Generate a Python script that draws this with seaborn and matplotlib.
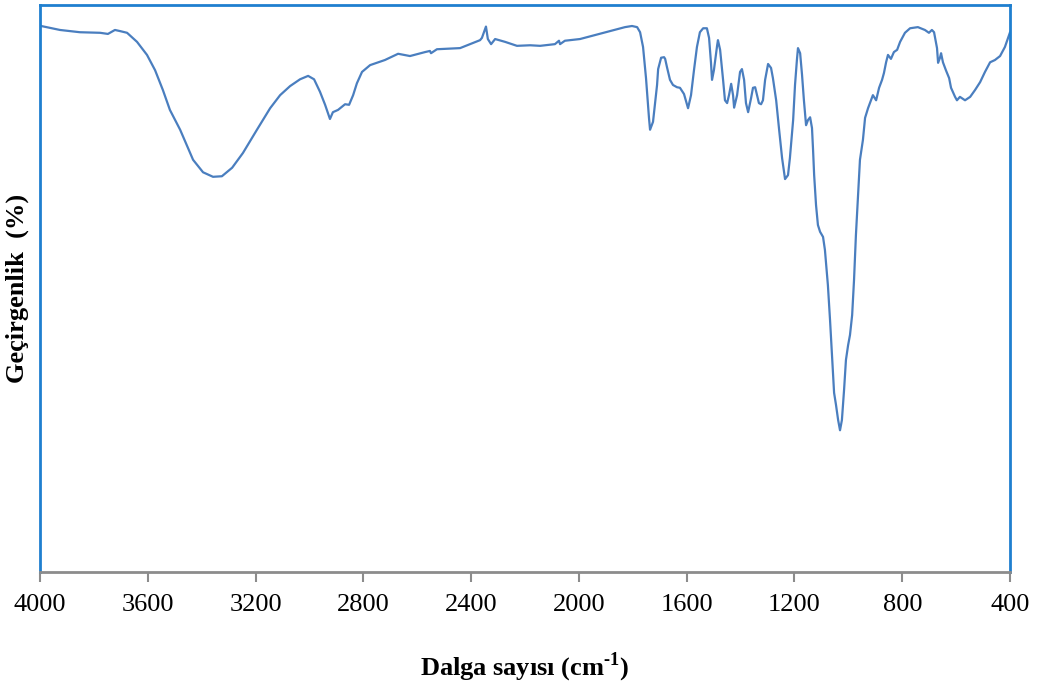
import numpy as np
import pandas as pd
import matplotlib
matplotlib.use("Agg")
import matplotlib.pyplot as plt
import seaborn as sns

# Wavenumber (cm-1) and transmittance (%)
wavenumber = [
    3996, 3926, 3852, 3777, 3748, 3722, 3703, 3677, 3640, 3603, 3573, 3544, 3518, 3480,
    3432, 3395, 3358, 3325, 3287, 3247, 3195, 3146, 3109, 3072, 3035, 3005, 2983, 2961,
    2942, 2924, 2913, 2894, 2868, 2853, 2838, 2824, 2805, 2775, 2720, 2671, 2627, 2571,
    2553, 2549, 2527, 2441, 2404, 2367, 2360, 2345, 2338, 2326, 2311, 2274, 2230, 2181,
    2144, 2089, 2074, 2070, 2052, 1996, 1940, 1885, 1829, 1803, 1784, 1773, 1762, 1751,
    1740, 1736, 1725, 1710, 1706, 1695, 1684, 1680, 1673, 1662, 1651, 1636, 1625, 1610,
    1595, 1584, 1573, 1562, 1551, 1539, 1525, 1517, 1510, 1506, 1499, 1487, 1484, 1476,
    1465, 1458, 1450, 1443, 1435, 1428, 1424, 1413, 1402, 1395, 1387, 1380, 1372, 1361,
    1354, 1346, 1339, 1332, 1324, 1317, 1309, 1298, 1287, 1280, 1268, 1257, 1246, 1235,
    1224, 1217, 1205, 1198, 1191, 1187, 1179, 1172, 1165, 1157, 1150, 1142, 1135, 1131,
    1127, 1120, 1113, 1105, 1094, 1087, 1076, 1068, 1061, 1053, 1046, 1038, 1031, 1024,
    1016, 1009, 1001, 994, 986, 979, 972, 964, 957, 946, 938, 927, 916, 909,
    897, 886, 875, 868, 860, 853, 842, 831, 819, 808, 790, 771, 742, 716,
    701, 690, 682, 671, 667, 660, 656, 649, 638, 626, 619, 604, 597, 586,
    567, 548, 530, 511, 493, 474, 456, 437, 419, 400,
]
transmittance = [
    96.3, 95.6, 95.2, 95.1, 94.9, 95.6, 95.4, 95.1, 93.5, 91.2, 88.5, 85.0, 81.5, 78.0,
    72.7, 70.5, 69.7, 69.8, 71.3, 73.9, 78.0, 81.8, 84.1, 85.7, 86.9, 87.5, 86.9, 84.7,
    82.4, 79.9, 81.1, 81.5, 82.5, 82.4, 84.1, 86.2, 88.2, 89.4, 90.3, 91.4, 91.0, 91.7,
    91.9, 91.5, 92.2, 92.4, 93.1, 93.8, 94.2, 96.2, 94.0, 93.1, 94.0, 93.5, 92.8, 92.9,
    92.8, 93.1, 93.7, 93.1, 93.7, 94.0, 94.7, 95.4, 96.1, 96.3, 96.1, 95.2, 92.6, 87.1,
    80.1, 78.0, 79.4, 85.9, 88.7, 90.7, 90.8, 90.5, 89.0, 86.8, 85.9, 85.5, 85.4, 84.3,
    81.8, 84.1, 88.5, 92.6, 95.2, 95.9, 95.9, 94.2, 89.9, 86.8, 88.5, 92.9, 93.8, 92.1,
    86.8, 83.2, 82.7, 84.1, 86.1, 84.1, 81.9, 84.1, 88.2, 88.7, 86.8, 82.7, 81.1, 83.6,
    85.4, 85.5, 84.1, 82.7, 82.5, 83.2, 86.8, 89.6, 88.9, 87.1, 83.2, 78.0, 73.0, 69.3,
    70.0, 73.0, 79.7, 85.9, 90.3, 92.4, 91.5, 87.7, 83.2, 78.8, 79.7, 80.2, 78.3, 74.4,
    70.0, 64.7, 61.2, 60.0, 59.1, 56.8, 50.6, 44.4, 38.3, 31.6, 29.5, 26.8, 25.0, 26.8,
    32.1, 37.4, 40.0, 41.8, 45.3, 51.5, 59.4, 66.5, 72.7, 76.2, 80.1, 81.8, 83.2, 84.1,
    83.2, 85.4, 86.8, 88.0, 89.9, 91.2, 90.5, 91.7, 92.1, 93.5, 95.1, 95.9, 96.1, 95.6,
    95.1, 95.6, 95.2, 92.4, 89.8, 90.7, 91.5, 89.9, 88.5, 87.1, 85.4, 83.8, 83.2, 83.8,
    83.2, 83.8, 85.0, 86.4, 88.2, 89.9, 90.3, 91.0, 92.6, 95.2,
]
x_ticks = [4000, 3600, 3200, 2800, 2400, 2000, 1600, 1200, 800, 400]

df = pd.DataFrame({"wn": wavenumber, "T": transmittance})

sns.set_style("white")
plt.rcParams["font.family"] = ["Liberation Serif", "DejaVu Serif"]
plt.rcParams["mathtext.fontset"] = "custom"
plt.rcParams["mathtext.rm"] = "Liberation Serif:bold"
plt.rcParams["mathtext.bf"] = "Liberation Serif:bold"
plt.rcParams["text.color"] = "black"
plt.rcParams["axes.labelcolor"] = "black"
plt.rcParams["xtick.labelcolor"] = "black"

fig = plt.figure(figsize=(10.37, 6.87), dpi=100)
ax = fig.add_axes([0.0386, 0.1674, 0.9354, 0.8253])

sns.lineplot(data=df, x="wn", y="T", ax=ax, sort=False, color="#4a7ebf",
             linewidth=1.6, estimator=None)

ax.set_xlim(4000, 400)
ax.set_ylim(0, 100)
ax.set_xticks(x_ticks)
ax.set_xticklabels([str(t) for t in x_ticks], fontsize=19, color="black")
ax.set_yticks([])

frame_blue = "#1f7fcf"
for side in ["top", "left", "right"]:
    ax.spines[side].set_color(frame_blue)
    ax.spines[side].set_linewidth(2)
ax.spines["bottom"].set_color("#8c8c8c")
ax.spines["bottom"].set_linewidth(2)
ax.tick_params(axis="x", direction="out", length=7, width=1.5, color="#8c8c8c",
               pad=9, bottom=True)

ax.set_xlabel(r"Dalga sayısı (cm$^{\text{-1}}$)", fontsize=19, fontweight="bold",
              labelpad=25, color="black")
ax.set_ylabel("Geçirgenlik  (%)", fontsize=19, fontweight="bold", labelpad=8,
              color="black")

fig.savefig("out.png", dpi=100)
